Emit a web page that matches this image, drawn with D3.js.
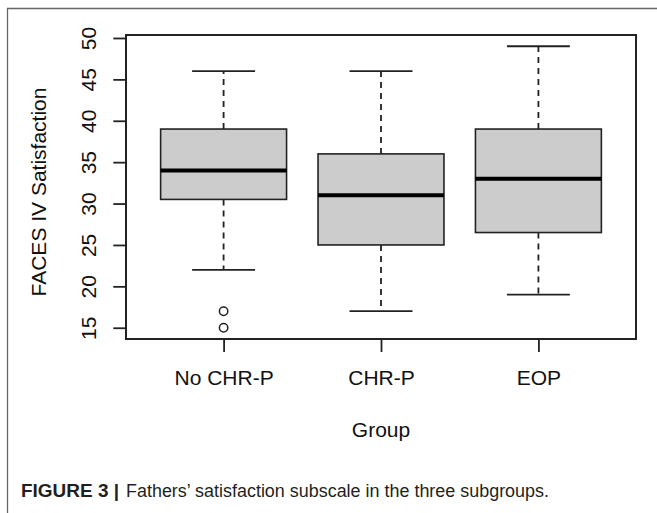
<!DOCTYPE html>
<html>
<head>
<meta charset="utf-8">
<script src="https://cdn.jsdelivr.net/npm/d3@7"></script>
<style>
  body { margin: 0; background: #fff; }
  svg { display: block; }
</style>
</head>
<body>
<div class="root"></div>
<script>
// box stats
var groups    = ['No CHR-P', 'CHR-P', 'EOP'];
var whiskLo   = [22, 17, 19];
var q1        = [30.5, 25, 26.5];
var medians   = [34, 31, 33];
var q3        = [39, 36, 39];
var whiskHi   = [46, 46, 49];
var outliers  = [[17, 15], [], []];
var yTicks    = [15, 20, 25, 30, 35, 40, 45, 50];

var width = 657, height = 513;

var svg = d3.select('.root')
            .append('svg')
            .attr('width', width)
            .attr('height', height);

// frame of the figure panel (top + left edges only visible)
svg.append('path')
   .attr('d', 'M7.5,513 V8.5 H657')
   .style('fill', 'none')
   .style('stroke', '#666')
   .style('stroke-width', 1.3);

var plotL = 126, plotR = 636, plotT = 35, plotB = 339;

// R style: range padded by 4%
var x = d3.scaleLinear().domain([0.38, 3.62]).range([plotL, plotR]);
var y = d3.scaleLinear().domain([13.64, 50.36]).range([plotB, plotT]);

var lineCol = '#222';
var halfW = x(1.4) - x(1);
var capW  = x(1.2) - x(1);

var boxes = groups.map(function (g, i) {
  return {name: g, pos: i + 1, lo: whiskLo[i], q1: q1[i], med: medians[i], q3: q3[i], hi: whiskHi[i], out: outliers[i]};
});

var g = svg.selectAll('.box')
           .data(boxes)
           .enter()
           .append('g')
           .attr('class', 'box');

// whiskers (dashed)
g.append('line')
 .attr('x1', d => x(d.pos)).attr('x2', d => x(d.pos))
 .attr('y1', d => y(d.q3)).attr('y2', d => y(d.hi))
 .style('stroke', lineCol).style('stroke-width', 1.8).style('stroke-dasharray', '6,5');
g.append('line')
 .attr('x1', d => x(d.pos)).attr('x2', d => x(d.pos))
 .attr('y1', d => y(d.q1)).attr('y2', d => y(d.lo))
 .style('stroke', lineCol).style('stroke-width', 1.8).style('stroke-dasharray', '6,5');

// staples
['hi', 'lo'].forEach(function (k) {
  g.append('line')
   .attr('x1', d => x(d.pos) - capW).attr('x2', d => x(d.pos) + capW)
   .attr('y1', d => y(d[k])).attr('y2', d => y(d[k]))
   .style('stroke', lineCol).style('stroke-width', 1.8);
});

// boxes
g.append('rect')
 .attr('x', d => x(d.pos) - halfW)
 .attr('width', 2 * halfW)
 .attr('y', d => y(d.q3))
 .attr('height', d => y(d.q1) - y(d.q3))
 .style('fill', '#cccccc')
 .style('stroke', lineCol)
 .style('stroke-width', 1.6);

// medians
g.append('line')
 .attr('x1', d => x(d.pos) - halfW).attr('x2', d => x(d.pos) + halfW)
 .attr('y1', d => y(d.med)).attr('y2', d => y(d.med))
 .style('stroke', '#000').style('stroke-width', 4);

// outliers
g.selectAll('circle')
 .data(d => d.out.map(v => ({pos: d.pos, v: v})))
 .enter()
 .append('circle')
 .attr('cx', d => x(d.pos))
 .attr('cy', d => y(d.v))
 .attr('r', 4.2)
 .style('fill', 'none')
 .style('stroke', lineCol)
 .style('stroke-width', 1.5);

// plot box
svg.append('rect')
   .attr('x', plotL).attr('y', plotT)
   .attr('width', plotR - plotL).attr('height', plotB - plotT)
   .style('fill', 'none')
   .style('stroke', lineCol)
   .style('stroke-width', 2);

var font = '"Liberation Sans", Arial, Helvetica, sans-serif';

// y axis
var yAxis = svg.append('g')
   .attr('transform', 'translate(' + plotL + ',0)')
   .call(d3.axisLeft(y).tickValues(yTicks).tickSize(12.7).tickPadding(0));
yAxis.select('.domain').remove();
yAxis.selectAll('.tick line').style('stroke', lineCol).style('stroke-width', 1.8);
yAxis.selectAll('.tick text')
     .attr('x', null).attr('dy', null)
     .attr('text-anchor', 'middle')
     .attr('transform', 'translate(-30.5,0) rotate(-90)')
     .style('font-family', font)
     .style('font-size', '21px')
     .style('fill', '#111');

// x axis
var xAxis = svg.append('g')
   .attr('transform', 'translate(0,' + plotB + ')')
   .call(d3.axisBottom(x).tickValues([1, 2, 3]).tickFormat((d, i) => groups[i]).tickSize(13).tickPadding(0));
xAxis.select('.domain').remove();
xAxis.selectAll('.tick line').style('stroke', lineCol).style('stroke-width', 1.8);
xAxis.selectAll('.tick text')
     .attr('y', 46).attr('dy', null)
     .style('font-family', font)
     .style('font-size', '21px')
     .style('fill', '#111');

// axis titles
svg.append('text')
   .attr('x', (plotL + plotR) / 2)
   .attr('y', 437)
   .attr('text-anchor', 'middle')
   .style('font-family', font)
   .style('font-size', '21px')
   .style('fill', '#111')
   .text('Group');

svg.append('text')
   .attr('transform', 'translate(45.5,' + 192 + ') rotate(-90)')
   .attr('text-anchor', 'middle')
   .style('font-family', font)
   .style('font-size', '21px')
   .style('fill', '#111')
   .text('FACES IV Satisfaction');

// caption (condensed look: squeeze Liberation Sans to the measured widths)
svg.append('text')
   .attr('x', 21).attr('y', 497)
   .attr('textLength', 98).attr('lengthAdjust', 'spacingAndGlyphs')
   .style('font-family', font)
   .style('font-weight', 'bold')
   .style('font-size', '17.5px')
   .style('fill', '#231f20')
   .text('FIGURE 3 |');
svg.append('text')
   .attr('x', 126).attr('y', 497)
   .attr('textLength', 423).attr('lengthAdjust', 'spacingAndGlyphs')
   .style('font-family', font)
   .style('font-size', '17.5px')
   .style('fill', '#231f20')
   .text('Fathers\u2019 satisfaction subscale in the three subgroups.');
</script>
</body>
</html>
